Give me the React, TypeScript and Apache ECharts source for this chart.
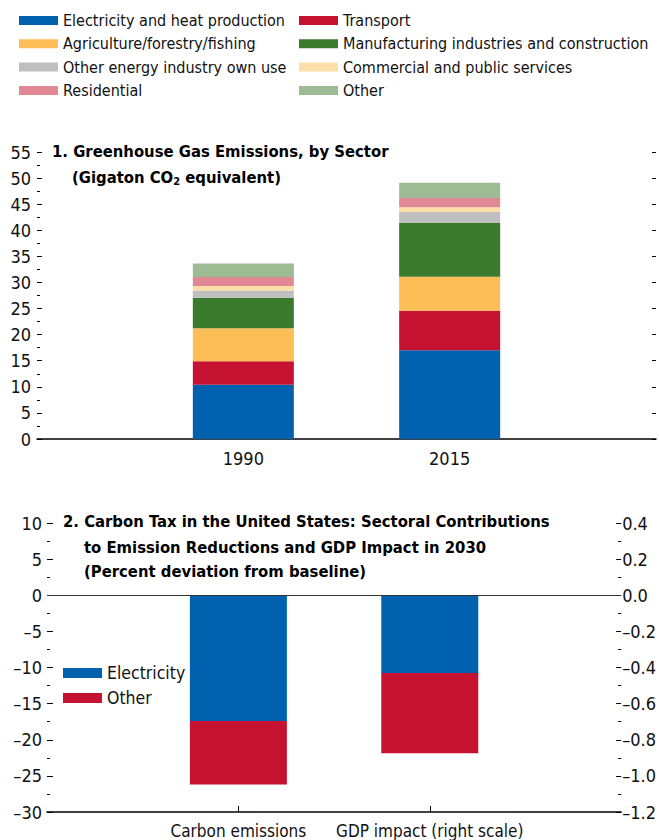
import React, { useEffect, useRef } from "react";
import * as echarts from "echarts";

const FONT = "'DejaVu Sans Condensed', 'Liberation Sans', sans-serif";

// Panel 1 data
const years = ["1990", "2015"];
const sectorNames = [
  "Electricity and heat production",
  "Transport",
  "Agriculture/forestry/fishing",
  "Manufacturing industries and construction",
  "Other energy industry own use",
  "Commercial and public services",
  "Residential",
  "Other",
];
const sectorColors = ["#0061AF", "#C41230", "#FDBD57", "#3A7A2D", "#BFBFBF", "#FFDFA8", "#E08893", "#9DBC94"];
const electricityHeat = [10.4, 17.0];
const transport = [4.5, 7.6];
const agriculture = [6.3, 6.5];
const manufacturing = [5.85, 10.3];
const otherEnergy = [1.4, 2.1];
const commercial = [0.85, 0.9];
const residential = [1.75, 1.8];
const otherSector = [2.6, 2.9];
const sectorValues = [electricityHeat, transport, agriculture, manufacturing, otherEnergy, commercial, residential, otherSector];

// Panel 2 data
const panel2Categories = ["Carbon emissions", "GDP impact (right scale)"];
const carbonElectricity = -17.4;
const carbonOther = -8.8;
const gdpElectricity = -0.43;
const gdpOther = -0.445;

const dash = (v: number, d = 0) => {
  const s = Math.abs(v).toFixed(d);
  return v < 0 ? "\u2013" + s : s;
};

export default function App() {
  const ref = useRef<HTMLDivElement>(null);
  useEffect(() => {
    document.body.style.margin = "0";
    const chart = echarts.init(ref.current!, null, { renderer: "svg" });
    const cats1 = ["", ...years, ""];
    const cats2 = ["", ...panel2Categories, ""];
    const txt = { fontFamily: FONT, color: "#111" };
    const titleStyle = { fontFamily: FONT, fontSize: 16.5, fontWeight: "bold", color: "#000" };

    const series1 = sectorNames.map((name, i) => ({
      name,
      type: "bar",
      stack: "s",
      xAxisIndex: 0,
      yAxisIndex: 0,
      barWidth: 101,
      itemStyle: { color: sectorColors[i] },
      data: [null, ...sectorValues[i], null],
    }));

    const legendBase = {
      orient: "vertical",
      top: 12,
      padding: 0,
      itemWidth: 39,
      itemHeight: 9,
      itemGap: 6.3,
      icon: "rect",
      selectedMode: false,
      textStyle: { ...txt, fontSize: 16, lineHeight: 17 },
    };

    const option: any = {
      animation: false,
      textStyle: { fontFamily: FONT },
      title: [
        { text: "1. Greenhouse Gas Emissions, by Sector", left: 52, top: 143, padding: 0, textStyle: titleStyle },
        {
          text: "{a|(Gigaton CO}{s|2}{a| equivalent)}",
          left: 72,
          top: 167,
          padding: 0,
          textStyle: {
            rich: {
              a: titleStyle,
              s: { ...titleStyle, fontSize: 11, verticalAlign: "bottom", padding: [9, 0, 0, 0] },
            },
          },
        },
        { text: "2. Carbon Tax in the United States: Sectoral Contributions", left: 63, top: 513, padding: 0, textStyle: titleStyle },
        {
          text: "to Emission Reductions and GDP Impact in 2030\n(Percent deviation from baseline)",
          left: 84,
          top: 535,
          padding: 0,
          textStyle: { ...titleStyle, lineHeight: 24 },
        },
      ],
      legend: [
        { ...legendBase, data: [sectorNames[0], sectorNames[2], sectorNames[4], sectorNames[6]], left: 19 },
        { ...legendBase, data: [sectorNames[1], sectorNames[3], sectorNames[5], sectorNames[7]], left: 299 },
        {
          data: ["Electricity", "Other (2)"],
          orient: "vertical",
          left: 63,
          top: 664,
          padding: 0,
          itemWidth: 39,
          itemHeight: 10,
          itemGap: 7,
          icon: "rect",
          selectedMode: false,
          formatter: (n: string) => n.replace(" (2)", ""),
          textStyle: { ...txt, fontSize: 17.5, lineHeight: 18 },
        },
      ],
      grid: [
        { left: 37, top: 152, width: 622, height: 287 },
        { left: 47, top: 523, width: 575, height: 289 },
      ],
      xAxis: [
        {
          type: "category",
          gridIndex: 0,
          data: cats1,
          boundaryGap: false,
          axisLine: { lineStyle: { color: "#000", width: 1.5 } },
          axisTick: { show: false },
          axisLabel: { ...txt, fontSize: 18, margin: 10 },
        },
        {
          type: "category",
          gridIndex: 1,
          data: cats2,
          boundaryGap: false,
          axisLine: { onZero: false, lineStyle: { color: "#000", width: 1.5 } },
          axisTick: { show: true, inside: true, length: 6, interval: (i: number) => i === 1 || i === 2, lineStyle: { color: "#000" } },
          axisLabel: { ...txt, fontSize: 17, margin: 10, interval: 0 },
        },
      ],
      yAxis: [
        {
          type: "value",
          gridIndex: 0,
          min: 0,
          max: 55,
          interval: 5,
          position: "left",
          splitLine: { show: false },
          axisLine: { show: false },
          axisTick: { show: true, inside: true, length: 5, lineStyle: { color: "#000" } },
          minorTick: { show: true, splitNumber: 2, length: 3, lineStyle: { color: "#000" } },
          axisLabel: { ...txt, fontSize: 18, margin: 6 },
        },
        {
          type: "value",
          gridIndex: 0,
          min: 0,
          max: 55,
          interval: 5,
          position: "right",
          splitLine: { show: false },
          axisLine: { show: false },
          axisTick: { show: true, inside: true, length: 4, lineStyle: { color: "#000" } },
          axisLabel: { show: false },
        },
        {
          type: "value",
          gridIndex: 1,
          min: -30,
          max: 10,
          interval: 5,
          position: "left",
          splitLine: { show: false },
          axisLine: { show: false },
          axisTick: { show: true, inside: true, length: 6, lineStyle: { color: "#000" } },
          minorTick: { show: true, splitNumber: 2, length: 3, lineStyle: { color: "#000" } },
          axisLabel: { ...txt, fontSize: 18, margin: 5, formatter: (v: number) => dash(v) },
        },
        {
          type: "value",
          gridIndex: 1,
          min: -1.2,
          max: 0.4,
          interval: 0.2,
          position: "right",
          splitLine: { show: false },
          axisLine: { show: false },
          axisTick: { show: true, inside: true, length: 5, lineStyle: { color: "#000" } },
          minorTick: { show: true, splitNumber: 2, length: 3, lineStyle: { color: "#000" } },
          axisLabel: { ...txt, fontSize: 18, margin: 1, formatter: (v: number) => dash(v, 1) },
        },
      ],
      series: [
        ...series1,
        {
          name: "Electricity",
          type: "bar",
          stack: "c",
          xAxisIndex: 1,
          yAxisIndex: 2,
          barWidth: 97,
          barGap: "-100%",
          itemStyle: { color: "#0061AF" },
          data: [null, carbonElectricity, null, null],
          markLine: {
            silent: true,
            symbol: "none",
            label: { show: false },
            lineStyle: { color: "#333", width: 1, type: "solid" },
            data: [{ yAxis: 0 }],
          },
        },
        {
          name: "Other (2)",
          type: "bar",
          stack: "c",
          xAxisIndex: 1,
          yAxisIndex: 2,
          barWidth: 97,
          barGap: "-100%",
          itemStyle: { color: "#C41230" },
          data: [null, carbonOther, null, null],
        },
        {
          name: "Electricity",
          type: "bar",
          stack: "g",
          xAxisIndex: 1,
          yAxisIndex: 3,
          barWidth: 97,
          barGap: "-100%",
          itemStyle: { color: "#0061AF" },
          data: [null, null, gdpElectricity, null],
        },
        {
          name: "Other (2)",
          type: "bar",
          stack: "g",
          xAxisIndex: 1,
          yAxisIndex: 3,
          barWidth: 97,
          barGap: "-100%",
          itemStyle: { color: "#C41230" },
          data: [null, null, gdpOther, null],
        },
      ],
    };
    chart.setOption(option);
    return () => chart.dispose();
  }, []);
  return <div ref={ref} style={{ width: 659, height: 840 }} />;
}
